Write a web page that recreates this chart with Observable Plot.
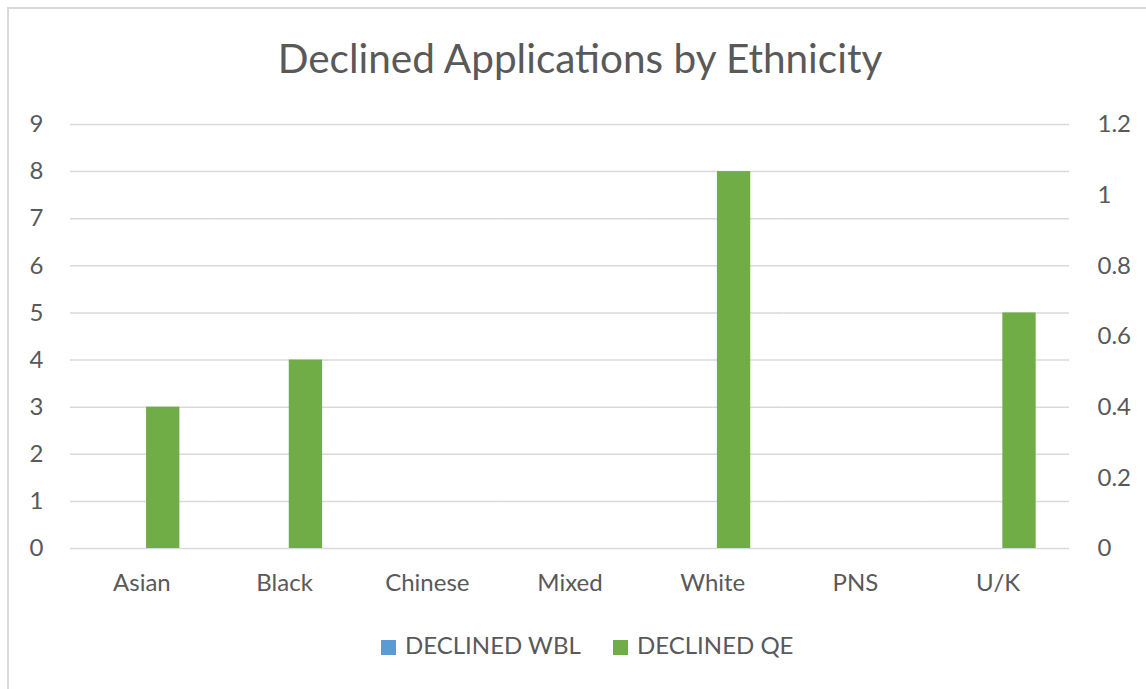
<!DOCTYPE html>
<html>
<head>
<meta charset="utf-8">
<script src="https://cdn.jsdelivr.net/npm/d3@7"></script>
<script src="https://cdn.jsdelivr.net/npm/@observablehq/plot@0.6"></script>
<style>
  html, body { margin: 0; padding: 0; background: #fff; }
  #chart {
    position: relative; width: 1146px; height: 689px; overflow: hidden;
    font-family: Lato, "Open Sans", sans-serif; color: #595959;
  }
  #frame {
    position: absolute; left: 7px; top: 7px; width: 1160px; height: 700px;
    border: 2px solid #d9d9d9; box-sizing: border-box;
  }
  #title {
    position: absolute; left: 7px; width: 1146px; top: 35px;
    text-align: center; font-size: 40.5px; line-height: 46px;
  }
  #plot { position: absolute; left: 0; top: 100px; }
  #legend {
    position: absolute; top: 632px; left: 0; width: 1146px; height: 26px;
    font-size: 24px; line-height: 26px;
  }
  .item { position: absolute; top: 0; white-space: nowrap; }
  .sw { display: inline-block; width: 15px; height: 15px; margin-right: 9px; vertical-align: -1px; }
</style>
</head>
<body>
<div id="chart">
  <div id="frame"></div>
  <div id="title">Declined Applications by Ethnicity</div>
  <div id="plot"></div>
  <div id="legend"></div>
</div>
<script>
// Ethnic groups along the bottom
const categories = ["Asian", "Black", "Chinese", "Mixed", "White", "PNS", "U/K"];
// Series names and colours
const seriesNames = ["DECLINED WBL", "DECLINED QE"];
const seriesColors = ["#5b9bd5", "#70ad47"];
// DECLINED WBL is read on the right-hand axis, DECLINED QE on the left
const declinedWBL = [0, 0, 0, 0, 0, 0, 0];
const declinedQE = [3, 4, 0, 0, 8, 0, 5];
// Axis ticks
const leftTicks = [0, 1, 2, 3, 4, 5, 6, 7, 8, 9];
const rightTicks = [0, 0.2, 0.4, 0.6, 0.8, 1, 1.2];

const leftMax = leftTicks[leftTicks.length - 1];
const rightMax = rightTicks[rightTicks.length - 1];
const toLeft = v => v * leftMax / rightMax;

const rows = [];
categories.forEach((c, i) => {
  rows.push({cat: c, series: seriesNames[0], value: toLeft(declinedWBL[i])});
  rows.push({cat: c, series: seriesNames[1], value: declinedQE[i]});
});

const textColor = "#595959";
const chart = Plot.plot({
  width: 1146,
  height: 520,
  marginTop: 24,
  marginBottom: 72,
  marginLeft: 70,
  marginRight: 77,
  style: {fontFamily: "Lato, 'Open Sans', sans-serif", color: textColor, background: "transparent"},
  fx: {domain: categories, padding: 0, round: false, label: null},
  x: {domain: seriesNames, paddingInner: 0.22, paddingOuter: 0.78, round: false, axis: null},
  y: {domain: [0, leftMax], label: null, axis: null},
  color: {domain: seriesNames, range: seriesColors},
  marks: [
    Plot.gridY(leftTicks, {stroke: "#d9d9d9", strokeOpacity: 1, strokeWidth: 1.5}),
    Plot.barY(rows, {fx: "cat", x: "series", y: "value", fill: "series"}),
    Plot.axisY({anchor: "left", ticks: leftTicks, tickSize: 0, tickPadding: 27,
      fontSize: 24, fill: textColor, label: null}),
    Plot.axisY({anchor: "right", ticks: rightTicks.map(toLeft), tickSize: 0, tickPadding: 28,
      tickFormat: (d, i) => String(rightTicks[i]), fontSize: 24, fill: textColor, label: null}),
    Plot.axisFx({anchor: "bottom", tickSize: 0, tickPadding: 25, fontSize: 24, fill: textColor, label: null})
  ]
});
document.getElementById("plot").appendChild(chart);

// Legend below the plot
const legend = document.getElementById("legend");
const legendLeft = [381, 613];
seriesNames.forEach((name, i) => {
  const item = document.createElement("div");
  item.className = "item";
  item.style.left = legendLeft[i] + "px";
  item.innerHTML = `<span class="sw" style="background:${seriesColors[i]}"></span>${name}`;
  legend.appendChild(item);
});
</script>
</body>
</html>
